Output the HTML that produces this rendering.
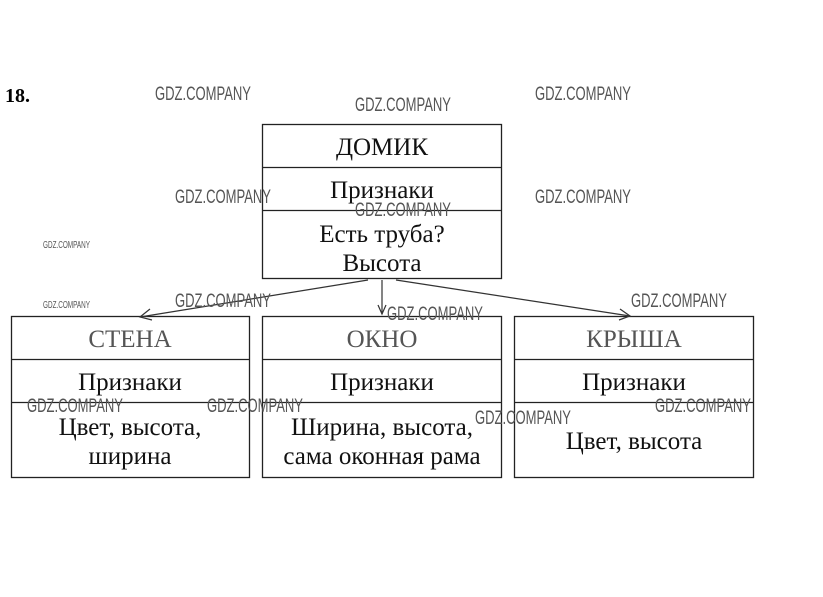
<!DOCTYPE html>
<html><head><meta charset="utf-8"><style>
html,body{margin:0;padding:0;background:#fff;}
svg{display:block;}
.t{font-family:"Liberation Serif","Noto Serif CJK SC",serif;font-size:25px;fill:#111;text-anchor:middle;}
.h{fill:#555;}
.w{font-family:"Liberation Sans",sans-serif;font-size:19px;fill:#555;}
.ws{font-family:"Liberation Sans",sans-serif;font-size:10px;fill:#555;}
</style></head><body>
<svg width="823" height="597" viewBox="0 0 823 597" xmlns="http://www.w3.org/2000/svg">
<rect width="823" height="597" fill="#fff"/>
<text x="5" y="102" style="font-family:'Liberation Serif',serif;font-weight:bold;font-size:20px;fill:#000">18.</text>
<g fill="none" stroke="#222" stroke-width="1.3">
<rect x="262.5" y="124.5" width="239" height="154"/>
<line x1="262" y1="167.5" x2="501" y2="167.5"/>
<line x1="262" y1="210.5" x2="501" y2="210.5"/>
<rect x="11.5" y="316.5" width="238" height="161"/>
<line x1="11" y1="359.5" x2="249" y2="359.5"/>
<line x1="11" y1="402.5" x2="249" y2="402.5"/>
<rect x="262.5" y="316.5" width="239" height="161"/>
<line x1="262" y1="359.5" x2="501" y2="359.5"/>
<line x1="262" y1="402.5" x2="501" y2="402.5"/>
<rect x="514.5" y="316.5" width="239" height="161"/>
<line x1="514" y1="359.5" x2="753" y2="359.5"/>
<line x1="514" y1="402.5" x2="753" y2="402.5"/>
</g>
<g fill="none" stroke="#333" stroke-width="1.2">
<line x1="368" y1="280" x2="140" y2="317"/>
<polyline points="150,309 140,317 152,320"/>
<line x1="382" y1="280" x2="382" y2="314"/>
<polyline points="378,305 382,314 386,305"/>
<line x1="396" y1="280" x2="630" y2="316"/>
<polyline points="620,309 630,316 619,320"/>
</g>
<text class="t" x="382" y="155">ДОМИК</text>
<text class="t" x="382" y="198">Признаки</text>
<text class="t" x="382" y="242">Есть труба?</text>
<text class="t" x="382" y="271">Высота</text>
<text class="t h" x="130" y="347">СТЕНА</text>
<text class="t h" x="382" y="347">ОКНО</text>
<text class="t h" x="634" y="347">КРЫША</text>
<text class="t" x="130" y="390">Признаки</text>
<text class="t" x="382" y="390">Признаки</text>
<text class="t" x="634" y="390">Признаки</text>
<text class="t" x="130" y="435">Цвет, высота,</text>
<text class="t" x="130" y="464">ширина</text>
<text class="t" x="382" y="435">Ширина, высота,</text>
<text class="t" x="382" y="464">сама оконная рама</text>
<text class="t" x="634" y="449">Цвет, высота</text>
<g class="w">
<text x="155" y="100" textLength="96" lengthAdjust="spacingAndGlyphs">GDZ.COMPANY</text>
<text x="355" y="111" textLength="96" lengthAdjust="spacingAndGlyphs">GDZ.COMPANY</text>
<text x="535" y="100" textLength="96" lengthAdjust="spacingAndGlyphs">GDZ.COMPANY</text>
<text x="175" y="203" textLength="96" lengthAdjust="spacingAndGlyphs">GDZ.COMPANY</text>
<text x="355" y="216" textLength="96" lengthAdjust="spacingAndGlyphs">GDZ.COMPANY</text>
<text x="535" y="203" textLength="96" lengthAdjust="spacingAndGlyphs">GDZ.COMPANY</text>
<text x="175" y="307" textLength="96" lengthAdjust="spacingAndGlyphs">GDZ.COMPANY</text>
<text x="387" y="320" textLength="96" lengthAdjust="spacingAndGlyphs">GDZ.COMPANY</text>
<text x="631" y="307" textLength="96" lengthAdjust="spacingAndGlyphs">GDZ.COMPANY</text>
<text x="27" y="412" textLength="96" lengthAdjust="spacingAndGlyphs">GDZ.COMPANY</text>
<text x="207" y="412" textLength="96" lengthAdjust="spacingAndGlyphs">GDZ.COMPANY</text>
<text x="475" y="424" textLength="96" lengthAdjust="spacingAndGlyphs">GDZ.COMPANY</text>
<text x="655" y="412" textLength="96" lengthAdjust="spacingAndGlyphs">GDZ.COMPANY</text>
</g>
<text class="ws" x="43" y="248" textLength="47" lengthAdjust="spacingAndGlyphs">GDZ.COMPANY</text>
<text class="ws" x="43" y="308" textLength="47" lengthAdjust="spacingAndGlyphs">GDZ.COMPANY</text>
</svg>
</body></html>
